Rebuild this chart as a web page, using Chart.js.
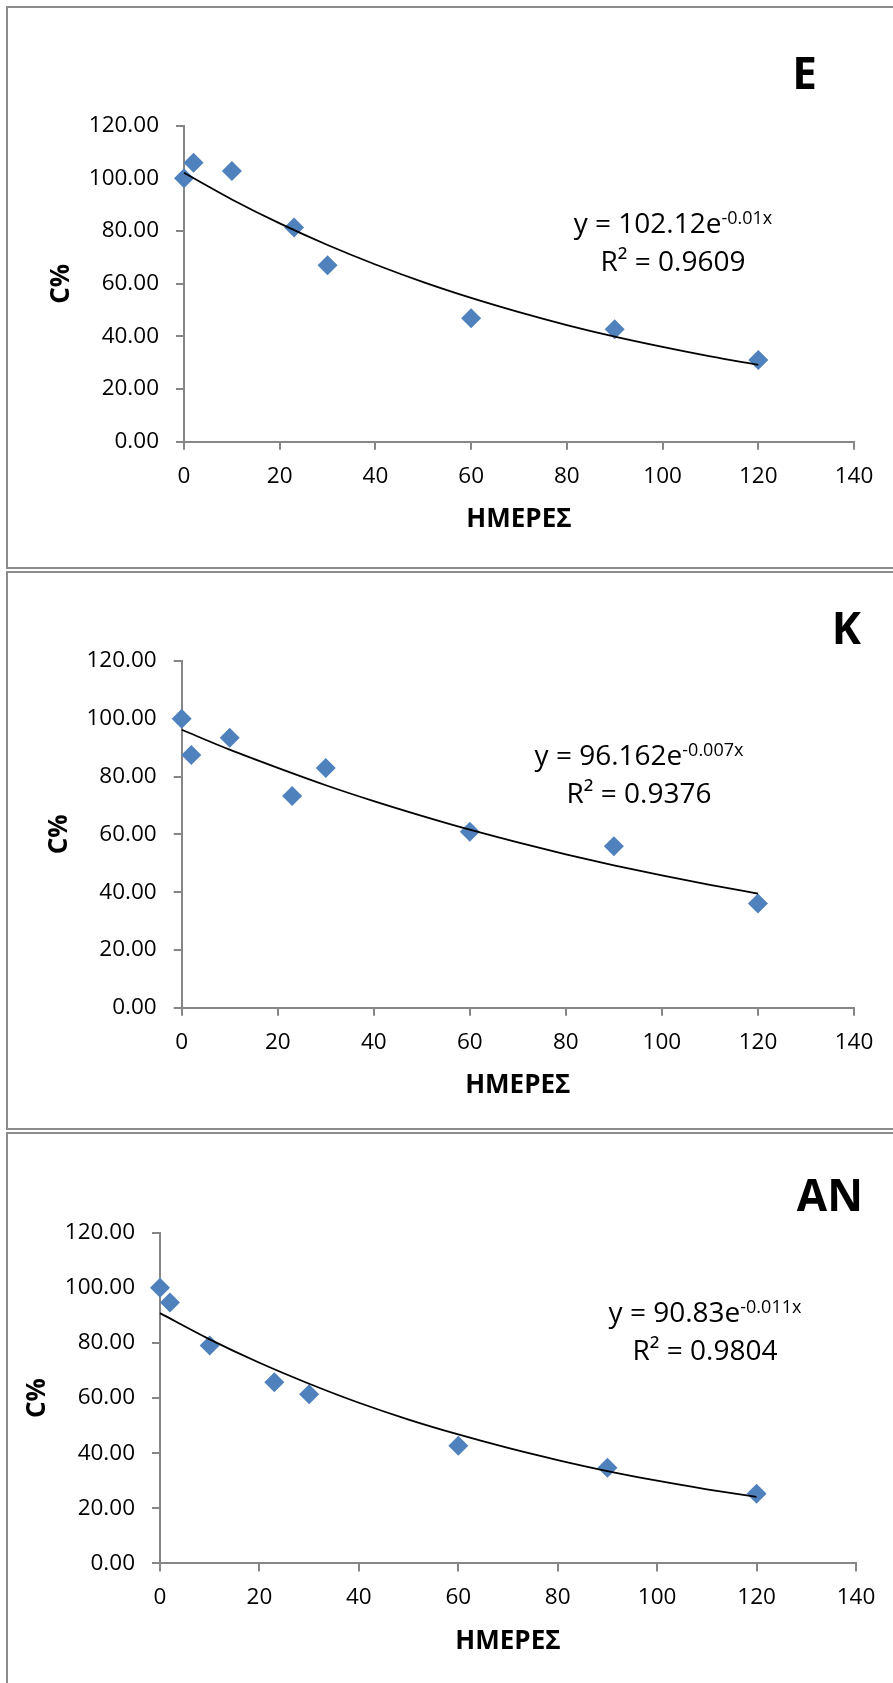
<!DOCTYPE html>
<html><head><meta charset="utf-8">
<script src="https://cdn.jsdelivr.net/npm/chart.js@4.4.1/dist/chart.umd.min.js"></script>
<style>
html,body{margin:0;padding:0;background:#fff;}
body{width:893px;height:1683px;position:relative;overflow:hidden;font-family:'Open Sans',sans-serif;}
.frame{position:absolute;left:6px;width:900px;box-sizing:border-box;border-left:2px solid #8c8c8c;border-top:2px solid #8c8c8c;}
.frame.b{border-bottom:2px solid #8c8c8c;}
canvas{position:absolute;left:0;}
.eq{position:absolute;width:400px;text-align:center;font-size:28px;line-height:38px;color:#000;white-space:nowrap;}
.eq .sup{font-size:18px;vertical-align:9.5px;line-height:0;}
.lbl{position:absolute;font-weight:700;font-size:44px;color:#000;line-height:normal;white-space:nowrap;}
</style></head>
<body>
<div class="frame b" style="top:6px;height:563px"></div>
<div class="frame b" style="top:571px;height:559px"></div>
<div class="frame" style="top:1132px;height:600px"></div>

<canvas id="c1" width="893" height="555" style="top:10px"></canvas>
<canvas id="c2" width="893" height="552" style="top:575px"></canvas>
<canvas id="c3" width="893" height="547" style="top:1136px"></canvas>

<div class="lbl" style="top:42px;right:76px">E</div>
<div class="lbl" style="top:597px;right:32px">K</div>
<div class="lbl" style="top:1164px;right:30px">AN</div>

<div class="eq" style="left:473px;top:203px">y = 102.12e<span class="sup">-0.01x</span><br>R² = 0.9609</div>
<div class="eq" style="left:439px;top:735px">y = 96.162e<span class="sup">-0.007x</span><br>R² = 0.9376</div>
<div class="eq" style="left:505px;top:1292px">y = 90.83e<span class="sup">-0.011x</span><br>R² = 0.9804</div>

<script>
// ---- data ----
const DAYS = [0, 2, 10, 23, 30, 60, 90, 120];
const C_E  = [100, 105.9, 102.8, 81.3, 67.0, 46.9, 42.7, 31.0];
const C_K  = [100, 87.5, 93.4, 73.3, 83.0, 60.9, 55.9, 36.1];
const C_AN = [100, 94.7, 79.1, 65.7, 61.4, 42.7, 34.7, 25.3];

const TREND_DAYS = [0, 10, 20, 30, 40, 50, 60, 70, 80, 90, 100, 110, 120];
const TREND_E  = [102.1, 92.0, 82.9, 74.7, 67.3, 60.6, 54.6, 49.2, 44.3, 39.9, 36.0, 32.4, 29.2];
const TREND_K  = [96.2, 89.3, 83.0, 77.0, 71.5, 66.4, 61.6, 57.2, 53.1, 49.3, 45.8, 42.5, 39.5];
const TREND_AN = [90.8, 81.3, 72.8, 65.2, 58.3, 52.2, 46.8, 41.9, 37.5, 33.5, 30.0, 26.9, 24.1];

const X_MIN = 0, X_MAX = 140, X_STEP = 20;
const Y_MIN = 0, Y_MAX = 120, Y_STEP = 20;
const X_TITLE = 'ΗΜΕΡΕΣ';
const Y_TITLE = 'C%';

// ---- layout / style ----
Chart.defaults.font.family = "'Open Sans', sans-serif";
const AXIS_COLOR = '#868686';
const MARKER = '#4F81BD';
const TITLE_SIZE = 26;
const TITLE_LH = TITLE_SIZE * 1.2;
const XAXIS_H = 76.3 + 1.9 + TITLE_LH / 2;

function makeChart(id, canvasTop, canvasH, plot, yTitleX, values, trend) {
  const el = document.getElementById(id);
  new Chart(el, {
    type: 'scatter',
    data: {
      datasets: [
        {
          type: 'line',
          data: TREND_DAYS.map((d, i) => ({x: d, y: trend[i]})),
          borderColor: '#000', borderWidth: 1.8, pointRadius: 0,
          cubicInterpolationMode: 'monotone', fill: false, clip: false
        },
        {
          data: DAYS.map((d, i) => ({x: d, y: values[i]})),
          pointStyle: 'rectRot', pointRadius: 10, pointHoverRadius: 10,
          backgroundColor: MARKER, borderColor: MARKER, borderWidth: 0, clip: false
        }
      ]
    },
    options: {
      responsive: false, animation: false, events: [],
      layout: { padding: {
        left: 0,
        top: plot.top - canvasTop,
        right: 893 - plot.right,
        bottom: canvasH - (plot.bottom - canvasTop) - XAXIS_H
      }},
      plugins: { legend: {display: false}, tooltip: {enabled: false} },
      scales: {
        x: {
          type: 'linear', min: X_MIN, max: X_MAX,
          ticks: { stepSize: X_STEP, color: '#000', font: {size: 22.5}, padding: 13, maxRotation: 0, autoSkip: false },
          grid: { display: true, drawOnChartArea: false, drawTicks: true, tickLength: 8, color: AXIS_COLOR, lineWidth: 2 },
          border: { display: true, color: AXIS_COLOR, width: 2 },
          title: { display: true, text: X_TITLE, color: '#000', font: {size: TITLE_SIZE, weight: 'bold'}, padding: {top: 0, bottom: 0} },
          afterFit: s => { s.height = XAXIS_H; }
        },
        y: {
          type: 'linear', min: Y_MIN, max: Y_MAX,
          ticks: { stepSize: Y_STEP, color: '#000', font: {size: 22.5}, padding: 17, callback: v => Number(v).toFixed(2) },
          grid: { display: true, drawOnChartArea: false, drawTicks: true, tickLength: 8, color: AXIS_COLOR, lineWidth: 2 },
          border: { display: true, color: AXIS_COLOR, width: 2 },
          title: { display: true, text: Y_TITLE, color: '#000', font: {size: TITLE_SIZE, weight: 'bold'}, padding: {top: yTitleX + 1.9 - TITLE_LH / 2, bottom: 0} },
          afterFit: s => { s.width = plot.left; }
        }
      }
    }
  });
}

makeChart('c1', 10, 555, {left: 184, right: 854, top: 125.7, bottom: 441.7}, 60, C_E, TREND_E);
makeChart('c2', 575, 552, {left: 181.7, right: 854, top: 661, bottom: 1007.7}, 57.5, C_K, TREND_K);
makeChart('c3', 1136, 547, {left: 160, right: 856, top: 1232.7, bottom: 1563.4}, 35.5, C_AN, TREND_AN);
</script>
</body></html>
